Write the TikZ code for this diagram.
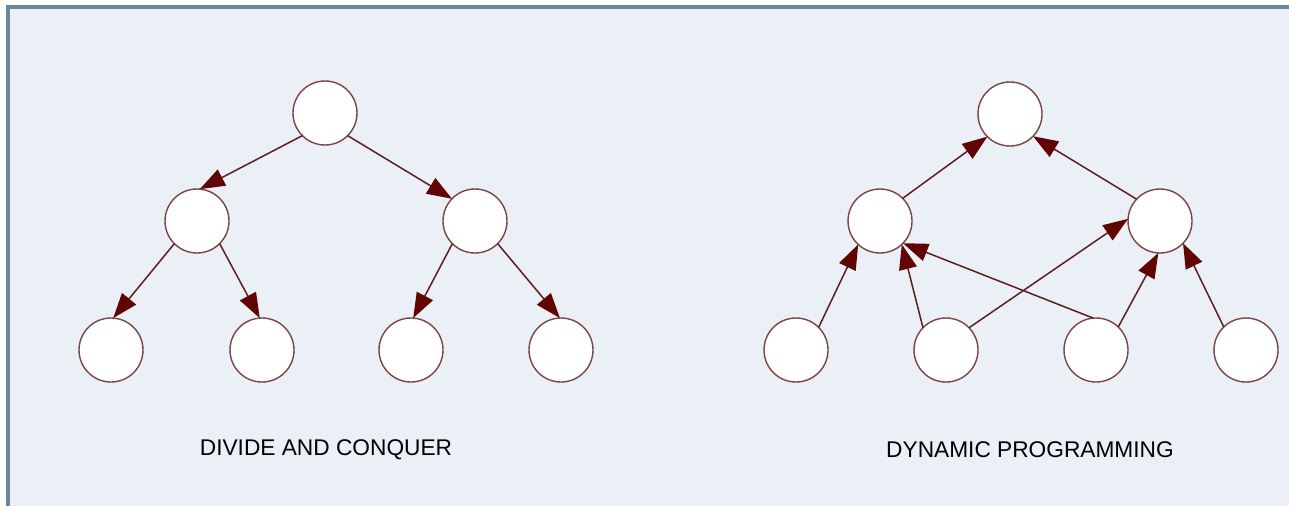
\documentclass[tikz,border=0pt]{standalone}
\usepackage{fontspec}
\setmainfont{Liberation Sans}
\usetikzlibrary{arrows.meta}
\definecolor{bgc}{HTML}{EBF0F7}
\definecolor{framec}{HTML}{6E8498}
\definecolor{circc}{HTML}{7A4545}
\definecolor{edgec}{HTML}{5E1E1E}
\definecolor{tipc}{HTML}{600404}
\tikzset{
  vert/.style={circle, draw=circc, line width=1.4pt, fill=white, minimum size=64pt, inner sep=0pt, outer sep=0pt},
  edge/.style={draw=edgec, line width=1.5pt, -{Triangle[length=25pt,width=18pt,fill=tipc,color=tipc]}},
  caption/.style={font=\fontsize{22.7pt}{26pt}\selectfont, text=black, inner sep=0pt}
}
\begin{document}
\begin{tikzpicture}[x=1pt,y=-1pt]
\useasboundingbox (0,0) rectangle (1289,506);
\fill[white] (0,0) rectangle (1289,506);
\fill[bgc] (10,9) rectangle (1289,506);
\fill[framec] (6,5) rectangle (1289,9);
\fill[framec] (6,5) rectangle (10,506);
% Divide and conquer
\node[vert] (r) at (325,113) {};
\node[vert] (a) at (197,221) {};
\node[vert] (b) at (475,221) {};
\node[vert] (a1) at (111,350) {};
\node[vert] (a2) at (262,350) {};
\node[vert] (b1) at (411,350) {};
\node[vert] (b2) at (561,350) {};
\draw[edge] (r.225) -- (a.85);
\draw[edge] (r.315) -- (b.136);
\draw[edge] (a.225) -- (a1.86);
\draw[edge] (a.315) -- (a2.94);
\draw[edge] (b.225) -- (b1.86);
\draw[edge] (b.315) -- (b2.92);
\node[caption] (t1) at (326,450) {DIVIDE AND CONQUER};
% Dynamic programming
\node[vert] (T) at (1010,114) {};
\node[vert] (L) at (880,221) {};
\node[vert] (R) at (1160,221) {};
\node[vert] (c1) at (796,350) {};
\node[vert] (c2) at (946,350) {};
\node[vert] (c3) at (1096,350) {};
\node[vert] (c4) at (1246,350) {};
\draw[edge] (L.45) -- (T.225);
\draw[edge] (R.137) -- (T.316);
\draw[edge] (c1.45) -- (L.227);
\draw[edge] (c2.136) -- (L.313);
\draw[edge] (c2.44) -- (R.176);
\draw[edge] (c3.95) -- (L.316);
\draw[edge] (c3.46) -- (R.267);
\draw[edge] (c4.134) -- (R.316);
\node[caption] (t2) at (1030,450) {DYNAMIC PROGRAMMING};
\end{tikzpicture}
\end{document}
